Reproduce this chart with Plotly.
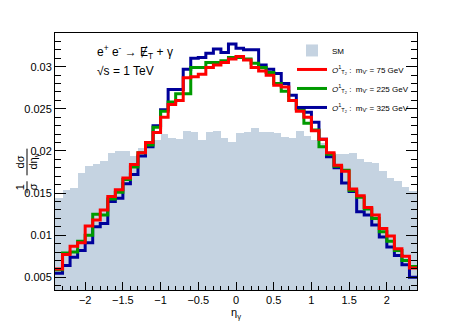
import plotly.graph_objects as go

# 48 bins of width 0.1 between -2.4 and 2.4
bin_edges = [round(-2.4 + 0.1 * i, 1) for i in range(49)]
bin_centers = [round(e + 0.05, 2) for e in bin_edges[:-1]]

sm = [
    0.0144, 0.0154, 0.0156, 0.0174, 0.0182, 0.0184, 0.0188, 0.0198, 0.0200, 0.0200,
    0.0194, 0.0204, 0.0207, 0.0213, 0.0220, 0.0215, 0.0214, 0.0224, 0.0222, 0.0213,
    0.0222, 0.0224, 0.0215, 0.0211, 0.0221, 0.0223, 0.0227, 0.0223, 0.0223, 0.0221,
    0.0217, 0.0215, 0.0224, 0.0218, 0.0213, 0.0210, 0.0198, 0.0196, 0.0197, 0.0198,
    0.0190, 0.0187, 0.0186, 0.0176, 0.0168, 0.0164, 0.0157, 0.0153,
]
m75 = [
    0.0060, 0.0077, 0.0087, 0.0091, 0.0111, 0.0118, 0.0130, 0.0146, 0.0154, 0.0168,
    0.0184, 0.0198, 0.0210, 0.0222, 0.0240, 0.0255, 0.0260, 0.0287, 0.0288, 0.0291,
    0.0299, 0.0302, 0.0305, 0.0309, 0.0312, 0.0308, 0.0299, 0.0295, 0.0290, 0.0278,
    0.0276, 0.0260, 0.0247, 0.0240, 0.0224, 0.0214, 0.0198, 0.0183, 0.0176, 0.0155,
    0.0147, 0.0133, 0.0124, 0.0108, 0.0099, 0.0084, 0.0075, 0.0061,
]
m225 = [
    0.0059, 0.0079, 0.0080, 0.0093, 0.0100, 0.0125, 0.0124, 0.0143, 0.0151, 0.0166,
    0.0181, 0.0198, 0.0207, 0.0228, 0.0247, 0.0258, 0.0268, 0.0268, 0.0299, 0.0299,
    0.0305, 0.0305, 0.0307, 0.0311, 0.0311, 0.0309, 0.0304, 0.0299, 0.0293, 0.0280,
    0.0271, 0.0260, 0.0250, 0.0233, 0.0225, 0.0205, 0.0196, 0.0182, 0.0177, 0.0153,
    0.0145, 0.0131, 0.0120, 0.0104, 0.0093, 0.0082, 0.0070, 0.0063,
]
m325 = [
    0.0055, 0.0064, 0.0074, 0.0082, 0.0091, 0.0110, 0.0114, 0.0140, 0.0144, 0.0161,
    0.0172, 0.0194, 0.0205, 0.0230, 0.0249, 0.0273, 0.0273, 0.0297, 0.0310, 0.0311,
    0.0316, 0.0321, 0.0317, 0.0327, 0.0322, 0.0320, 0.0320, 0.0302, 0.0297, 0.0292,
    0.0280, 0.0266, 0.0250, 0.0246, 0.0234, 0.0214, 0.0193, 0.0180, 0.0162, 0.0152,
    0.0128, 0.0124, 0.0112, 0.0098, 0.0086, 0.0076, 0.0065, 0.0050,
]

x_ticks = [-2, -1.5, -1, -0.5, 0, 0.5, 1, 1.5, 2]
y_ticks = [0.005, 0.01, 0.015, 0.02, 0.025, 0.03]
y_tick_labels = ["0.005", "0.01", "0.015", "0.02", "0.025", "0.03"]

FONT = "Liberation Sans, Arial, Helvetica, sans-serif"
# the page body adds an 8px margin, so the figure is 16px smaller than the window
PAGE_PAD = 8
W, H = 464 - 2 * PAGE_PAD, 334 - 2 * PAGE_PAD
# frame edges in window pixels
L, R, T, B = 55, 417, 33, 293


def px(x):
    return (x - L) / (R - L)


def py(y):
    return (B - y) / (B - T)


def step(vals):
    # histogram outline: bin edges with the last value repeated
    return bin_edges, vals + [vals[-1]]


fig = go.Figure()

fig.add_trace(
    go.Bar(
        x=bin_centers,
        y=sm,
        width=0.1,
        name="SM",
        marker=dict(color="#c5d3e1", line=dict(width=0)),
        legendrank=1,
    )
)

signals = [
    (m325, "#00009a", "325", 4),
    (m225, "#009a00", "225", 3),
    (m75, "#ff0000", "75", 2),
]
for vals, color, mass, rank in signals:
    xs, ys = step(vals)
    fig.add_trace(
        go.Scatter(
            x=xs,
            y=ys,
            mode="lines",
            line=dict(color=color, width=3, shape="hv"),
            name=f"<i>O</i><sup>1</sup><sub>T<sub>2</sub></sub> :  m<sub>V'</sub> = {mass} GeV",
            legendrank=rank,
        )
    )

fig.update_layout(
    width=W,
    height=H,
    margin=dict(l=L - PAGE_PAD, r=W + PAGE_PAD - R, t=T - PAGE_PAD, b=H + PAGE_PAD - B),
    paper_bgcolor="white",
    plot_bgcolor="white",
    bargap=0,
    font=dict(family=FONT, size=11, color="black"),
    showlegend=True,
    legend=dict(
        x=px(292),
        y=py(36),
        xanchor="left",
        yanchor="top",
        bgcolor="rgba(0,0,0,0)",
        font=dict(size=8, family=FONT),
        itemwidth=30,
        tracegroupgap=0,
    ),
    xaxis=dict(
        range=[-2.4, 2.4],
        tickvals=x_ticks,
        ticks="inside",
        ticklen=8,
        tickcolor="black",
        showline=True,
        linecolor="black",
        linewidth=1,
        mirror=True,
        showgrid=False,
        zeroline=False,
        tickfont=dict(size=11),
        minor=dict(ticks="inside", dtick=0.1, ticklen=4, tickcolor="black", showgrid=False),
        title=dict(text="η<sub>γ</sub>", font=dict(size=11), standoff=0),
    ),
    yaxis=dict(
        range=[0.0035, 0.0340],
        tickvals=y_ticks,
        ticktext=y_tick_labels,
        ticks="inside",
        ticklen=11,
        tickcolor="black",
        showline=True,
        linecolor="black",
        linewidth=1,
        mirror="ticks",
        showgrid=False,
        zeroline=False,
        tickfont=dict(size=11),
        minor=dict(ticks="inside", dtick=0.001, ticklen=6, tickcolor="black", showgrid=False),
    ),
)

# process labels
fig.add_annotation(
    x=px(95), y=py(52), xref="paper", yref="paper", xanchor="left", yanchor="middle",
    text="e<sup>+</sup> e<sup>-</sup> → Ɇ<sub>T</sub> + γ", showarrow=False,
    font=dict(size=12),
)
fig.add_annotation(
    x=px(95), y=py(71), xref="paper", yref="paper", xanchor="left", yanchor="middle",
    text="√s = 1 TeV", showarrow=False, font=dict(size=12),
)

# y-axis title as a rotated fraction: 1/σ dσ/dη_γ
for text, x, y in [
    ("1", 20, 189),
    ("σ", 33, 189),
    ("dσ", 20, 164),
    ("dη<sub>γ</sub>", 33, 163),
]:
    fig.add_annotation(
        x=px(x), y=py(y), xref="paper", yref="paper", text=text, showarrow=False,
        textangle=-90, font=dict(size=11), xanchor="center", yanchor="middle",
    )
for y0, y1 in [(183, 195), (150, 177)]:
    fig.add_shape(
        type="line", xref="paper", yref="paper",
        x0=px(27), x1=px(27), y0=py(y0), y1=py(y1),
        line=dict(color="black", width=1),
    )

fig.write_html("out.html")
